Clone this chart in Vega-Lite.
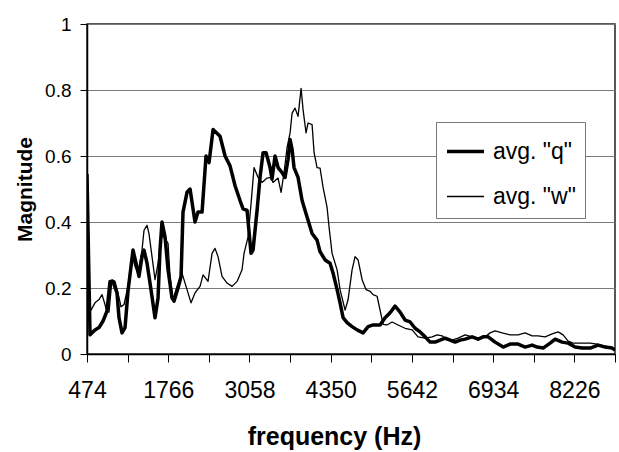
{
  "$schema": "https://vega.github.io/schema/vega-lite/v6.json",
  "width": 528,
  "height": 330,
  "autosize": "none",
  "padding": {"left": 87, "top": 24, "right": 4, "bottom": 98},
  "background": "white",
  "config": {
    "font": "Liberation Sans",
    "view": {"stroke": "#222", "strokeWidth": 1.5}
  },
  "data": {
    "values": [
      {"s":"avg. \"q\"","f":474,"m":0.545},{"s":"avg. \"q\"","f":522,"m":0.058},{"s":"avg. \"q\"","f":601,"m":0.073},{"s":"avg. \"q\"","f":665,"m":0.08},{"s":"avg. \"q\"","f":729,"m":0.1},{"s":"avg. \"q\"","f":792,"m":0.13},{"s":"avg. \"q\"","f":840,"m":0.22},{"s":"avg. \"q\"","f":888,"m":0.22},{"s":"avg. \"q\"","f":951,"m":0.185},{"s":"avg. \"q\"","f":983,"m":0.11},{"s":"avg. \"q\"","f":1031,"m":0.064},{"s":"avg. \"q\"","f":1079,"m":0.08},{"s":"avg. \"q\"","f":1126,"m":0.19},{"s":"avg. \"q\"","f":1206,"m":0.315},{"s":"avg. \"q\"","f":1254,"m":0.275},{"s":"avg. \"q\"","f":1301,"m":0.235},{"s":"avg. \"q\"","f":1349,"m":0.295},{"s":"avg. \"q\"","f":1381,"m":0.315},{"s":"avg. \"q\"","f":1429,"m":0.275},{"s":"avg. \"q\"","f":1492,"m":0.195},{"s":"avg. \"q\"","f":1556,"m":0.11},{"s":"avg. \"q\"","f":1604,"m":0.17},{"s":"avg. \"q\"","f":1635,"m":0.315},{"s":"avg. \"q\"","f":1667,"m":0.4},{"s":"avg. \"q\"","f":1715,"m":0.355},{"s":"avg. \"q\"","f":1763,"m":0.255},{"s":"avg. \"q\"","f":1826,"m":0.17},{"s":"avg. \"q\"","f":1858,"m":0.16},{"s":"avg. \"q\"","f":1922,"m":0.2},{"s":"avg. \"q\"","f":1970,"m":0.235},{"s":"avg. \"q\"","f":2001,"m":0.43},{"s":"avg. \"q\"","f":2065,"m":0.49},{"s":"avg. \"q\"","f":2113,"m":0.5},{"s":"avg. \"q\"","f":2192,"m":0.4},{"s":"avg. \"q\"","f":2240,"m":0.43},{"s":"avg. \"q\"","f":2304,"m":0.43},{"s":"avg. \"q\"","f":2367,"m":0.6},{"s":"avg. \"q\"","f":2415,"m":0.58},{"s":"avg. \"q\"","f":2479,"m":0.68},{"s":"avg. \"q\"","f":2590,"m":0.66},{"s":"avg. \"q\"","f":2670,"m":0.6},{"s":"avg. \"q\"","f":2749,"m":0.57},{"s":"avg. \"q\"","f":2829,"m":0.51},{"s":"avg. \"q\"","f":2908,"m":0.465},{"s":"avg. \"q\"","f":2956,"m":0.44},{"s":"avg. \"q\"","f":3020,"m":0.435},{"s":"avg. \"q\"","f":3083,"m":0.305},{"s":"avg. \"q\"","f":3115,"m":0.315},{"s":"avg. \"q\"","f":3179,"m":0.435},{"s":"avg. \"q\"","f":3226,"m":0.535},{"s":"avg. \"q\"","f":3274,"m":0.61},{"s":"avg. \"q\"","f":3322,"m":0.61},{"s":"avg. \"q\"","f":3386,"m":0.565},{"s":"avg. \"q\"","f":3417,"m":0.53},{"s":"avg. \"q\"","f":3465,"m":0.6},{"s":"avg. \"q\"","f":3513,"m":0.565},{"s":"avg. \"q\"","f":3576,"m":0.55},{"s":"avg. \"q\"","f":3624,"m":0.535},{"s":"avg. \"q\"","f":3672,"m":0.59},{"s":"avg. \"q\"","f":3704,"m":0.65},{"s":"avg. \"q\"","f":3736,"m":0.62},{"s":"avg. \"q\"","f":3767,"m":0.565},{"s":"avg. \"q\"","f":3831,"m":0.535},{"s":"avg. \"q\"","f":3895,"m":0.465},{"s":"avg. \"q\"","f":3974,"m":0.415},{"s":"avg. \"q\"","f":4054,"m":0.365},{"s":"avg. \"q\"","f":4133,"m":0.345},{"s":"avg. \"q\"","f":4181,"m":0.31},{"s":"avg. \"q\"","f":4261,"m":0.285},{"s":"avg. \"q\"","f":4340,"m":0.275},{"s":"avg. \"q\"","f":4388,"m":0.245},{"s":"avg. \"q\"","f":4452,"m":0.195},{"s":"avg. \"q\"","f":4499,"m":0.155},{"s":"avg. \"q\"","f":4547,"m":0.11},{"s":"avg. \"q\"","f":4611,"m":0.095},{"s":"avg. \"q\"","f":4690,"m":0.083},{"s":"avg. \"q\"","f":4770,"m":0.073},{"s":"avg. \"q\"","f":4865,"m":0.064},{"s":"avg. \"q\"","f":4945,"m":0.083},{"s":"avg. \"q\"","f":5024,"m":0.088},{"s":"avg. \"q\"","f":5136,"m":0.088},{"s":"avg. \"q\"","f":5215,"m":0.11},{"s":"avg. \"q\"","f":5295,"m":0.125},{"s":"avg. \"q\"","f":5374,"m":0.145},{"s":"avg. \"q\"","f":5454,"m":0.127},{"s":"avg. \"q\"","f":5533,"m":0.103},{"s":"avg. \"q\"","f":5613,"m":0.097},{"s":"avg. \"q\"","f":5692,"m":0.078},{"s":"avg. \"q\"","f":5772,"m":0.067},{"s":"avg. \"q\"","f":5852,"m":0.052},{"s":"avg. \"q\"","f":5931,"m":0.036},{"s":"avg. \"q\"","f":6011,"m":0.036},{"s":"avg. \"q\"","f":6090,"m":0.042},{"s":"avg. \"q\"","f":6170,"m":0.048},{"s":"avg. \"q\"","f":6249,"m":0.042},{"s":"avg. \"q\"","f":6329,"m":0.036},{"s":"avg. \"q\"","f":6408,"m":0.042},{"s":"avg. \"q\"","f":6488,"m":0.045},{"s":"avg. \"q\"","f":6599,"m":0.052},{"s":"avg. \"q\"","f":6695,"m":0.045},{"s":"avg. \"q\"","f":6774,"m":0.052},{"s":"avg. \"q\"","f":6854,"m":0.052},{"s":"avg. \"q\"","f":6965,"m":0.036},{"s":"avg. \"q\"","f":7093,"m":0.021},{"s":"avg. \"q\"","f":7204,"m":0.03},{"s":"avg. \"q\"","f":7331,"m":0.03},{"s":"avg. \"q\"","f":7443,"m":0.021},{"s":"avg. \"q\"","f":7554,"m":0.027},{"s":"avg. \"q\"","f":7634,"m":0.021},{"s":"avg. \"q\"","f":7729,"m":0.018},{"s":"avg. \"q\"","f":7840,"m":0.033},{"s":"avg. \"q\"","f":7920,"m":0.045},{"s":"avg. \"q\"","f":8031,"m":0.036},{"s":"avg. \"q\"","f":8127,"m":0.033},{"s":"avg. \"q\"","f":8238,"m":0.021},{"s":"avg. \"q\"","f":8349,"m":0.018},{"s":"avg. \"q\"","f":8477,"m":0.018},{"s":"avg. \"q\"","f":8604,"m":0.027},{"s":"avg. \"q\"","f":8715,"m":0.021},{"s":"avg. \"q\"","f":8827,"m":0.018},{"s":"avg. \"q\"","f":8872,"m":0.012},
      {"s":"avg. \"w\"","f":506,"m":0.125},{"s":"avg. \"w\"","f":538,"m":0.133},{"s":"avg. \"w\"","f":601,"m":0.155},{"s":"avg. \"w\"","f":665,"m":0.165},{"s":"avg. \"w\"","f":713,"m":0.18},{"s":"avg. \"w\"","f":760,"m":0.15},{"s":"avg. \"w\"","f":792,"m":0.127},{"s":"avg. \"w\"","f":824,"m":0.127},{"s":"avg. \"w\"","f":872,"m":0.225},{"s":"avg. \"w\"","f":919,"m":0.22},{"s":"avg. \"w\"","f":967,"m":0.185},{"s":"avg. \"w\"","f":1015,"m":0.143},{"s":"avg. \"w\"","f":1063,"m":0.15},{"s":"avg. \"w\"","f":1126,"m":0.205},{"s":"avg. \"w\"","f":1190,"m":0.3},{"s":"avg. \"w\"","f":1238,"m":0.265},{"s":"avg. \"w\"","f":1285,"m":0.245},{"s":"avg. \"w\"","f":1349,"m":0.315},{"s":"avg. \"w\"","f":1381,"m":0.375},{"s":"avg. \"w\"","f":1429,"m":0.39},{"s":"avg. \"w\"","f":1460,"m":0.365},{"s":"avg. \"w\"","f":1508,"m":0.295},{"s":"avg. \"w\"","f":1556,"m":0.225},{"s":"avg. \"w\"","f":1604,"m":0.275},{"s":"avg. \"w\"","f":1667,"m":0.36},{"s":"avg. \"w\"","f":1715,"m":0.35},{"s":"avg. \"w\"","f":1763,"m":0.335},{"s":"avg. \"w\"","f":1795,"m":0.235},{"s":"avg. \"w\"","f":1842,"m":0.165},{"s":"avg. \"w\"","f":1906,"m":0.205},{"s":"avg. \"w\"","f":1985,"m":0.245},{"s":"avg. \"w\"","f":2065,"m":0.195},{"s":"avg. \"w\"","f":2129,"m":0.155},{"s":"avg. \"w\"","f":2192,"m":0.185},{"s":"avg. \"w\"","f":2272,"m":0.205},{"s":"avg. \"w\"","f":2320,"m":0.24},{"s":"avg. \"w\"","f":2399,"m":0.22},{"s":"avg. \"w\"","f":2463,"m":0.305},{"s":"avg. \"w\"","f":2510,"m":0.32},{"s":"avg. \"w\"","f":2558,"m":0.295},{"s":"avg. \"w\"","f":2622,"m":0.235},{"s":"avg. \"w\"","f":2701,"m":0.215},{"s":"avg. \"w\"","f":2781,"m":0.205},{"s":"avg. \"w\"","f":2861,"m":0.22},{"s":"avg. \"w\"","f":2940,"m":0.255},{"s":"avg. \"w\"","f":2972,"m":0.305},{"s":"avg. \"w\"","f":3036,"m":0.355},{"s":"avg. \"w\"","f":3083,"m":0.455},{"s":"avg. \"w\"","f":3131,"m":0.565},{"s":"avg. \"w\"","f":3195,"m":0.535},{"s":"avg. \"w\"","f":3258,"m":0.52},{"s":"avg. \"w\"","f":3338,"m":0.533},{"s":"avg. \"w\"","f":3401,"m":0.535},{"s":"avg. \"w\"","f":3433,"m":0.52},{"s":"avg. \"w\"","f":3513,"m":0.533},{"s":"avg. \"w\"","f":3561,"m":0.49},{"s":"avg. \"w\"","f":3608,"m":0.55},{"s":"avg. \"w\"","f":3656,"m":0.625},{"s":"avg. \"w\"","f":3704,"m":0.67},{"s":"avg. \"w\"","f":3736,"m":0.73},{"s":"avg. \"w\"","f":3783,"m":0.745},{"s":"avg. \"w\"","f":3831,"m":0.72},{"s":"avg. \"w\"","f":3879,"m":0.805},{"s":"avg. \"w\"","f":3911,"m":0.74},{"s":"avg. \"w\"","f":3958,"m":0.67},{"s":"avg. \"w\"","f":3990,"m":0.7},{"s":"avg. \"w\"","f":4054,"m":0.695},{"s":"avg. \"w\"","f":4086,"m":0.61},{"s":"avg. \"w\"","f":4133,"m":0.565},{"s":"avg. \"w\"","f":4181,"m":0.563},{"s":"avg. \"w\"","f":4229,"m":0.505},{"s":"avg. \"w\"","f":4292,"m":0.445},{"s":"avg. \"w\"","f":4324,"m":0.385},{"s":"avg. \"w\"","f":4372,"m":0.305},{"s":"avg. \"w\"","f":4404,"m":0.285},{"s":"avg. \"w\"","f":4452,"m":0.255},{"s":"avg. \"w\"","f":4499,"m":0.195},{"s":"avg. \"w\"","f":4579,"m":0.133},{"s":"avg. \"w\"","f":4627,"m":0.165},{"s":"avg. \"w\"","f":4690,"m":0.255},{"s":"avg. \"w\"","f":4738,"m":0.295},{"s":"avg. \"w\"","f":4786,"m":0.285},{"s":"avg. \"w\"","f":4850,"m":0.225},{"s":"avg. \"w\"","f":4913,"m":0.195},{"s":"avg. \"w\"","f":4977,"m":0.19},{"s":"avg. \"w\"","f":5024,"m":0.18},{"s":"avg. \"w\"","f":5088,"m":0.175},{"s":"avg. \"w\"","f":5184,"m":0.09},{"s":"avg. \"w\"","f":5247,"m":0.088},{"s":"avg. \"w\"","f":5327,"m":0.097},{"s":"avg. \"w\"","f":5422,"m":0.088},{"s":"avg. \"w\"","f":5533,"m":0.078},{"s":"avg. \"w\"","f":5645,"m":0.073},{"s":"avg. \"w\"","f":5740,"m":0.052},{"s":"avg. \"w\"","f":5852,"m":0.048},{"s":"avg. \"w\"","f":5963,"m":0.052},{"s":"avg. \"w\"","f":6043,"m":0.058},{"s":"avg. \"w\"","f":6122,"m":0.055},{"s":"avg. \"w\"","f":6202,"m":0.042},{"s":"avg. \"w\"","f":6281,"m":0.042},{"s":"avg. \"w\"","f":6376,"m":0.048},{"s":"avg. \"w\"","f":6488,"m":0.058},{"s":"avg. \"w\"","f":6599,"m":0.052},{"s":"avg. \"w\"","f":6695,"m":0.048},{"s":"avg. \"w\"","f":6806,"m":0.052},{"s":"avg. \"w\"","f":6886,"m":0.064},{"s":"avg. \"w\"","f":6965,"m":0.07},{"s":"avg. \"w\"","f":7077,"m":0.064},{"s":"avg. \"w\"","f":7204,"m":0.058},{"s":"avg. \"w\"","f":7331,"m":0.058},{"s":"avg. \"w\"","f":7443,"m":0.064},{"s":"avg. \"w\"","f":7554,"m":0.055},{"s":"avg. \"w\"","f":7649,"m":0.055},{"s":"avg. \"w\"","f":7761,"m":0.052},{"s":"avg. \"w\"","f":7872,"m":0.061},{"s":"avg. \"w\"","f":7967,"m":0.067},{"s":"avg. \"w\"","f":8047,"m":0.058},{"s":"avg. \"w\"","f":8127,"m":0.039},{"s":"avg. \"w\"","f":8206,"m":0.033},{"s":"avg. \"w\"","f":8317,"m":0.033},{"s":"avg. \"w\"","f":8477,"m":0.033},{"s":"avg. \"w\"","f":8588,"m":0.03},{"s":"avg. \"w\"","f":8715,"m":0.024},{"s":"avg. \"w\"","f":8842,"m":0.018}
    ]
  },
  "mark": {"type": "line", "color": "black", "strokeJoin": "round", "clip": true},
  "encoding": {
    "x": {
      "field": "f", "type": "quantitative",
      "scale": {"domain": [474, 8872], "nice": false, "zero": false},
      "axis": {
        "title": "frequency (Hz)",
        "values": [474,1120,1766,2412,3058,3704,4350,4996,5642,6288,6934,7580,8226,8872],
        "labelExpr": "indexof([474,1766,3058,4350,5642,6934,8226], datum.value) >= 0 ? datum.label : ''",
        "format": "d",
        "grid": false,
        "domainColor": "black", "domainWidth": 1.5,
        "tickColor": "black", "tickSize": 8,
        "labelFontSize": 23, "labelColor": "black", "labelPadding": 17,
        "labelFlush": false, "labelOverlap": false,
        "titleFontSize": 25, "titleFontWeight": "bold", "titleColor": "black", "titlePadding": 22,
        "titleX": 247, "titleAlign": "center"
      }
    },
    "y": {
      "field": "m", "type": "quantitative",
      "scale": {"domain": [0, 1], "nice": false},
      "axis": {
        "title": "Magnitude",
        "values": [0, 0.2, 0.4, 0.6, 0.8, 1],
        "format": "~g",
        "grid": true, "gridColor": "#7a7a7a", "gridWidth": 1.2,
        "domainColor": "black", "domainWidth": 1.5,
        "tickColor": "black", "tickSize": 7,
        "labelFontSize": 19, "labelColor": "black", "labelPadding": 9,
        "titleFontSize": 21, "titleFontWeight": "bold", "titleColor": "black", "titlePadding": 9
      }
    },
    "strokeWidth": {
      "field": "s", "type": "nominal",
      "scale": {"domain": ["avg. \"q\"", "avg. \"w\""], "range": [3.5, 1.3]},
      "legend": {
        "title": null,
        "orient": "none", "legendX": 349, "legendY": 98,
        "strokeColor": "#777", "fillColor": "white", "padding": 9,
        "symbolType": "stroke", "symbolStrokeColor": "black", "symbolSize": 1369,
        "labelFontSize": 23, "labelColor": "black", "labelOffset": 7,
        "rowPadding": 13
      }
    }
  }
}
